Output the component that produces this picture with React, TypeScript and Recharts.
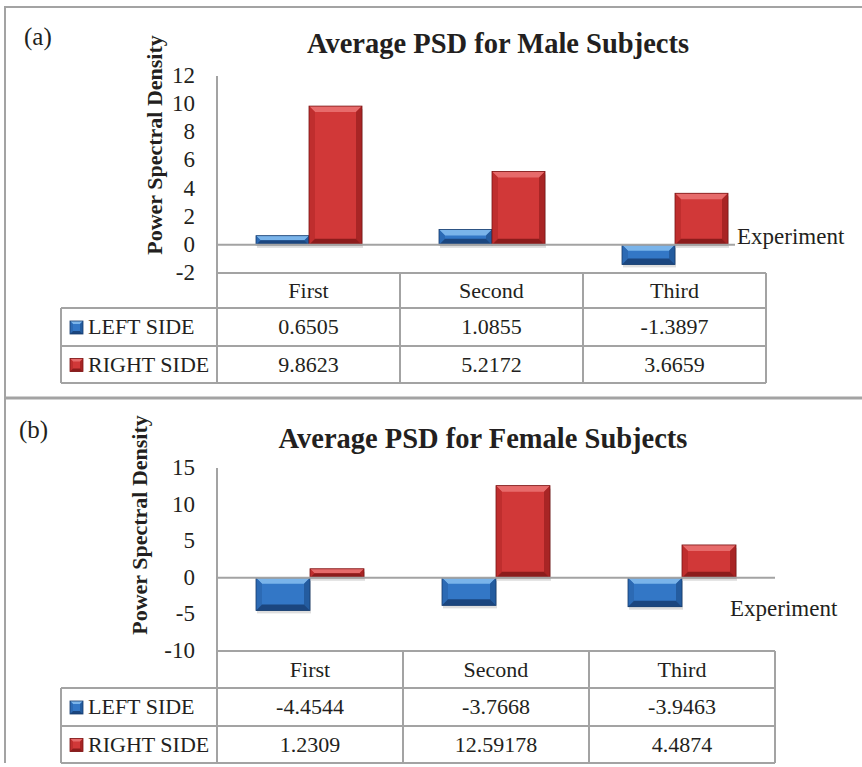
import React from 'react';
import { BarChart, Bar, XAxis, YAxis, ReferenceLine } from 'recharts';

// experiments along the x axis, and the two series
const experiments = ['First', 'Second', 'Third'];
const sideNames = ['LEFT SIDE', 'RIGHT SIDE'];

// (a) male subjects
const maleLeft = [0.6505, 1.0855, -1.3897];
const maleRight = [9.8623, 5.2172, 3.6659];
const maleTicks = [-2, 0, 2, 4, 6, 8, 10, 12];

// (b) female subjects
const femaleLeft = [-4.4544, -3.7668, -3.9463];
const femaleRight = [1.2309, 12.59178, 4.4874];
const femaleTicks = [-10, -5, 0, 5, 10, 15];

const FONT = '"Liberation Serif", "Times New Roman", serif';
const LINE = '#a3a3a3';
const INK = '#231f20';
const W = 862;

type Shade = { face: string; light: string; side: string; sideDark: string; dark: string; edge: string };

const blue: Shade = { face: '#3377c6', light: '#7ab4ea', side: '#2c6ab4', sideDark: '#245c9f', dark: '#1b467f', edge: '#163b6c' };
const red: Shade = { face: '#d13838', light: '#e76b6b', side: '#bf2e2e', sideDark: '#a82525', dark: '#8c1c1c', edge: '#7a1515' };

// office style bevelled box
const Bevel = ({ x, y, w, h, c, shadow = true, size = 6 }: { x: number; y: number; w: number; h: number; c: Shade; shadow?: boolean; size?: number }) => {
  const b = Math.min(size, h / 2, w / 2);
  return (
    <g>
      {shadow && <rect x={x + 1} y={y + 3} width={w} height={h} fill="rgba(0,0,0,0.13)" />}
      <rect x={x} y={y} width={w} height={h} fill={c.face} />
      <polygon points={`${x},${y} ${x + w},${y} ${x + w - b},${y + b} ${x + b},${y + b}`} fill={c.light} />
      <polygon points={`${x},${y} ${x + b},${y + b} ${x + b},${y + h - b} ${x},${y + h}`} fill={c.side} />
      <polygon points={`${x + w},${y} ${x + w - b},${y + b} ${x + w - b},${y + h - b} ${x + w},${y + h}`} fill={c.sideDark} />
      <polygon points={`${x},${y + h} ${x + w},${y + h} ${x + w - b},${y + h - b} ${x + b},${y + h - b}`} fill={c.dark} />
      <rect x={x} y={y} width={w} height={h} fill="none" stroke={c.edge} strokeWidth={0.8} />
    </g>
  );
};

const barShape = (c: Shade) => (p: any) => {
  const top = Math.min(p.y, p.y + p.height);
  const h = Math.abs(p.height);
  return <Bevel x={p.x} y={top} w={p.width} h={h} c={c} />;
};

type PanelCfg = {
  top: number;
  height: number;
  margin: { top: number; right: number; bottom: number; left: number };
  axisWidth: number;
  rows: number[];
  domain: [number, number];
  ticks: number[];
  left: number[];
  right: number[];
  barSize: number;
};

const Panel = ({ cfg }: { cfg: PanelCfg }) => {
  const data = experiments.map((name, i) => ({ name, left: cfg.left[i], right: cfg.right[i] }));
  const tableH = cfg.rows.reduce((a, b) => a + b, 0);
  const plotLeft = cfg.axisWidth;
  const plotRight = W - cfg.margin.right;
  const plotBottom = cfg.height - cfg.margin.bottom - tableH;
  const band = (plotRight - plotLeft) / experiments.length;
  const rowY = [plotBottom, plotBottom + cfg.rows[0], plotBottom + cfg.rows[0] + cfg.rows[1], plotBottom + tableH];
  const legendLeft = 61;

  const renderTable = (p: any) => {
    const i = p.index;
    const x0 = p.x - band / 2;
    const x1 = p.x + band / 2;
    const cells = [String(p.payload.value), String(cfg.left[i]), String(cfg.right[i])];
    return (
      <g>
        {i === 0 && (
          <g>
            <line x1={legendLeft} x2={plotLeft} y1={rowY[1]} y2={rowY[1]} stroke={LINE} strokeWidth={2} />
            <line x1={legendLeft} x2={plotLeft} y1={rowY[2]} y2={rowY[2]} stroke={LINE} strokeWidth={2} />
            <line x1={legendLeft} x2={plotLeft} y1={rowY[3]} y2={rowY[3]} stroke={LINE} strokeWidth={2} />
            <line x1={legendLeft} x2={legendLeft} y1={rowY[1]} y2={rowY[3]} stroke={LINE} strokeWidth={2} />
            <line x1={plotLeft} x2={plotLeft} y1={rowY[0]} y2={rowY[3]} stroke={LINE} strokeWidth={2} />
            {sideNames.map((s, k) => (
              <g key={s}>
                <Bevel x={legendLeft + 9} y={(rowY[k + 1] + rowY[k + 2]) / 2 - 6} w={13} h={13} c={k === 0 ? blue : red} shadow={false} size={3} />
                <text x={legendLeft + 27} y={(rowY[k + 1] + rowY[k + 2]) / 2 + 7} fontFamily={FONT} fontSize={22} fill={INK}>
                  {s}
                </text>
              </g>
            ))}
          </g>
        )}
        {[1, 2, 3].map((r) => (
          <line key={r} x1={x0} x2={x1} y1={rowY[r]} y2={rowY[r]} stroke={LINE} strokeWidth={2} />
        ))}
        <line x1={x1} x2={x1} y1={rowY[0]} y2={rowY[3]} stroke={LINE} strokeWidth={2} />
        {cells.map((t, r) => (
          <text key={r} x={p.x} y={(rowY[r] + rowY[r + 1]) / 2 + 7} textAnchor="middle" fontFamily={FONT} fontSize={22} fill={INK}>
            {t}
          </text>
        ))}
      </g>
    );
  };

  const renderYTick = (p: any) => (
    <text x={plotLeft - 22} y={p.y + 7} textAnchor="end" fontFamily={FONT} fontSize={23} fill={INK}>
      {p.payload.value}
    </text>
  );

  return (
    <div style={{ position: 'absolute', left: 0, top: cfg.top }}>
      <BarChart width={W} height={cfg.height} data={data} margin={cfg.margin} barGap={0} barSize={cfg.barSize}>
        <XAxis dataKey="name" height={tableH} interval={0} tickLine={false} axisLine={{ stroke: LINE, strokeWidth: 2 }} tick={renderTable} />
        <YAxis
          width={plotLeft}
          domain={cfg.domain}
          ticks={cfg.ticks}
          interval={0}
          tickLine={false}
          axisLine={{ stroke: LINE, strokeWidth: 2 }}
          tick={renderYTick}
        />
        <ReferenceLine y={0} stroke={LINE} strokeWidth={2} />
        <Bar dataKey="left" isAnimationActive={false} shape={barShape(blue)} />
        <Bar dataKey="right" isAnimationActive={false} shape={barShape(red)} />
      </BarChart>
    </div>
  );
};

const maleCfg: PanelCfg = {
  top: 0,
  height: 398,
  margin: { top: 76, right: 96, bottom: 15, left: 0 },
  axisWidth: 217,
  rows: [35, 38, 37],
  domain: [-2, 12],
  ticks: maleTicks,
  left: maleLeft,
  right: maleRight,
  barSize: 53,
};

const femaleCfg: PanelCfg = {
  top: 398,
  height: 369,
  margin: { top: 70, right: 87, bottom: 4, left: 0 },
  axisWidth: 217,
  rows: [37, 38, 37],
  domain: [-10, 15],
  ticks: femaleTicks,
  left: femaleLeft,
  right: femaleRight,
  barSize: 54,
};

export default function App() {
  return (
    <div style={{ position: 'absolute', left: 0, top: 0, width: W, height: 767, background: '#fff', overflow: 'hidden' }}>
      <Panel cfg={maleCfg} />
      <Panel cfg={femaleCfg} />
      <svg width={W} height={767} style={{ position: 'absolute', left: 0, top: 0, pointerEvents: 'none' }}>
        {/* frames */}
        <line x1={5} x2={W} y1={7} y2={7} stroke={LINE} strokeWidth={2} />
        <line x1={5} x2={5} y1={6} y2={763} stroke={LINE} strokeWidth={2} />
        <line x1={5} x2={W} y1={398} y2={398} stroke={LINE} strokeWidth={3} />

        {/* panel (a) */}
        <text x={24} y={45} fontFamily={FONT} fontSize={25} fill={INK}>(a)</text>
        <text x={498} y={53} textAnchor="middle" fontFamily={FONT} fontSize={28.5} fontWeight="bold" fill={INK}>
          Average PSD for Male Subjects
        </text>
        <text transform="translate(162,145) rotate(-90)" textAnchor="middle" fontFamily={FONT} fontSize={22} fontWeight="bold" fill={INK}>
          Power Spectral Density
        </text>
        <rect x={735} y={226} width={115} height={26} fill="#fff" />
        <text x={737} y={244} fontFamily={FONT} fontSize={23} fill={INK}>Experiment</text>

        {/* panel (b) */}
        <text x={19} y={438} fontFamily={FONT} fontSize={25} fill={INK}>(b)</text>
        <text x={483} y={448} textAnchor="middle" fontFamily={FONT} fontSize={28.5} fontWeight="bold" fill={INK}>
          Average PSD for Female Subjects
        </text>
        <text transform="translate(147,525) rotate(-90)" textAnchor="middle" fontFamily={FONT} fontSize={22} fontWeight="bold" fill={INK}>
          Power Spectral Density
        </text>
        <text x={730} y={616} fontFamily={FONT} fontSize={23} fill={INK}>Experiment</text>
      </svg>
    </div>
  );
}
